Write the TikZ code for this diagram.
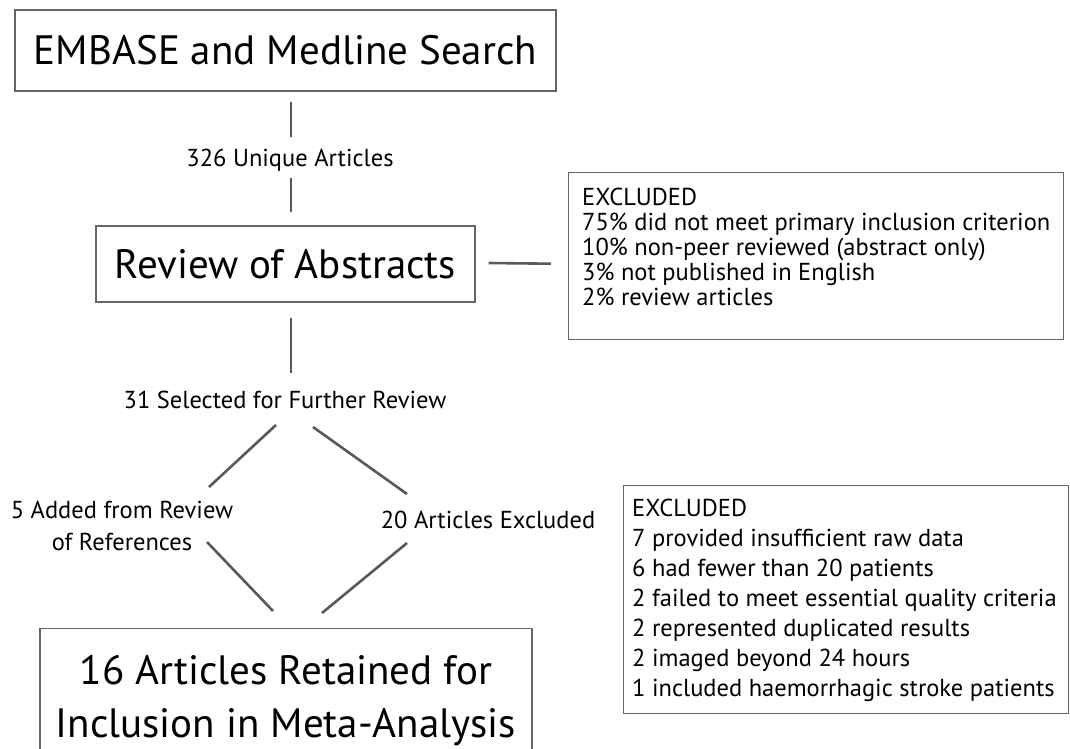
\documentclass[tikz,border=0pt]{standalone}
\usepackage{fontspec}
\setmainfont{PT Sans}
\usetikzlibrary{calc}
\newcommand{\fsz}[2]{\fontsize{#1}{#2}\selectfont}
\begin{document}
\begin{tikzpicture}[x=1pt,y=-1pt,
  bigbox/.style={draw=black!60, line width=1.4pt, rectangle, inner sep=0pt, font=\fsz{41}{53}, align=center},
  listbox/.style={draw=black!60, line width=1.4pt, rectangle, inner sep=0pt, anchor=north west},
  listtext/.style={inner sep=0pt, anchor=north west, align=left},
  lbl/.style={inner sep=0pt, font=\fsz{24.5}{32}, align=center},
  conn/.style={draw=black!65, line width=2.6pt}]
\useasboundingbox (0,0) rectangle (1070,749);
\fill[white] (0,0) rectangle (1070,749);
% main boxes
\node[bigbox, minimum width=541pt, minimum height=81pt] (b1) at (285.5,50.5) {EMBASE and Medline Search};
\node[bigbox, minimum width=379pt, minimum height=76pt] (b2) at (285.5,264) {Review of Abstracts};
\node[bigbox, minimum width=492pt, minimum height=150pt, anchor=north] (b5) at (286,628) {};
\node[inner sep=0pt, anchor=north, align=center, font=\fsz{41}{53}] (b5t) at (286,655) {16 Articles Retained for\\Inclusion in Meta-Analysis};
% exclusion boxes
\node[listbox, minimum width=495pt, minimum height=167pt] (b3) at (568,172) {};
\node[listtext, font=\fsz{24.5}{25}] (b3t) at (582,187.5) {EXCLUDED\\75\% did not meet primary inclusion criterion\\10\% non-peer reviewed (abstract only)\\3\% not published in English\\2\% review articles};
\node[listbox, minimum width=445pt, minimum height=228pt] (b4) at (623,485) {};
\node[listtext, font=\fsz{24.5}{30}] (b4t) at (632,498.5) {EXCLUDED\\7 provided insufficient raw data\\6 had fewer than 20 patients\\2 failed to meet essential quality criteria\\2 represented duplicated results\\2 imaged beyond 24 hours\\1 included haemorrhagic stroke patients};
% labels
\node[lbl] (l1) at (290,160) {326 Unique Articles};
\node[lbl] (l2) at (285,400) {31 Selected for Further Review};
\node[lbl] (l3) at (122,526) {5 Added from Review\\of References};
\node[lbl] (l4) at (488,520) {20 Articles Excluded};
% connector end points
\coordinate (v1a) at ($(b1.south)+(5.5,10)$);
\coordinate (v1b) at ($(b1.south)+(5.5,45)$);
\coordinate (v2a) at ($(b2.north)+(5.5,-47)$);
\coordinate (v2b) at ($(b2.north)+(5.5,-13)$);
\coordinate (h1a) at ($(b2.east)+(13,-1)$);
\coordinate (h1b) at ($(b3.west)+(-17,7.5)$);
\coordinate (v3a) at ($(b2.south)+(5.5,15)$);
\coordinate (v3b) at ($(b2.south)+(5.5,70)$);
\coordinate (d1a) at (276,425);
\coordinate (d1b) at (209,487);
\coordinate (d2a) at (313,427);
\coordinate (d2b) at (407,494);
\coordinate (d3a) at (207,542);
\coordinate (d3b) at ($(b5.north)+(-13,-17)$);
\coordinate (d4a) at (407,543);
\coordinate (d4b) at ($(b5.north)+(36,-15)$);
\draw[conn] (v1a) -- (v1b);
\draw[conn] (v2a) -- (v2b);
\draw[conn] (h1a) -- (h1b);
\draw[conn] (v3a) -- (v3b);
\draw[conn] (d1a) -- (d1b);
\draw[conn] (d2a) -- (d2b);
\draw[conn] (d3a) -- (d3b);
\draw[conn] (d4a) -- (d4b);
\end{tikzpicture}
\end{document}
